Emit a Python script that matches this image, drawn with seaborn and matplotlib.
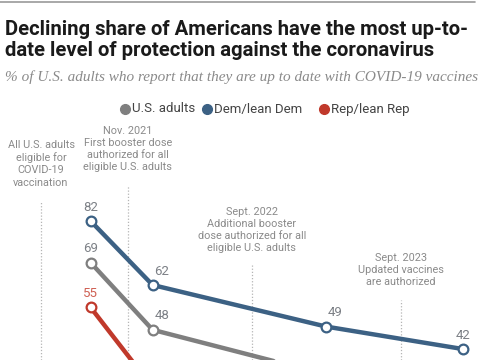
import matplotlib
matplotlib.use("Agg")
import matplotlib.pyplot as plt
import seaborn as sns
import pandas as pd

# --- data ---
# survey months, counted from Jan 2021 = 0 (Aug 2021, Jan 2022, Mar 2023, Feb 2024)
survey_month = [7, 12, 26, 37]
us_adults = [69, 48, 34, 28]
dem_lean = [82, 62, 49, 42]
rep_lean = [55, 30, 17, 12]
series_names = ["U.S. adults", "Dem/lean Dem", "Rep/lean Rep"]

event_month = [3, 10, 20, 32]
event_text = [
    "All U.S. adults\neligible for\nCOVID-19\nvaccination",
    "Nov. 2021\nFirst booster dose\nauthorized for all\neligible U.S. adults",
    "Sept. 2022\nAdditional booster\ndose authorized for all\neligible U.S. adults",
    "Sept. 2023\nUpdated vaccines\nare authorized",
]

colors = {"U.S. adults": "#7f7f7f", "Dem/lean Dem": "#3c6184", "Rep/lean Rep": "#c0392b"}
label_colors = {"U.S. adults": "#7c8086", "Dem/lean Dem": "#7c8086", "Rep/lean Rep": "#cf5f52"}

df = pd.DataFrame({
    "month": survey_month * 3,
    "share": us_adults + dem_lean + rep_lean,
    "group": [n for n in series_names for _ in survey_month],
})

sns.set_style("white")
plt.rcParams["font.family"] = ["Roboto", "DejaVu Sans"]

W, H = 485, 360
fig = plt.figure(figsize=(W / 100, H / 100), dpi=100)
ax = fig.add_axes([0, 0, 1, 1])

# pixel -> data mapping (the chart is cut off at the bottom like the reference)
px_per_month = 12.4
px_per_pt = 3.2
ax.set_xlim(3 - 41 / px_per_month, 3 + (W - 41) / px_per_month)
ax.set_ylim(82 - (H - 221) / px_per_pt, 82 + 221 / px_per_pt)
ax.axis("off")

def fy(py):
    return 1 - py / H

# event markers and notes (first-line centre in pixels)
text_top = [147, 133, 214, 260]
line_top = [202, 185, 265, 300]
for m, txt, ty, ly in zip(event_month, event_text, text_top, line_top):
    ax.axvline(m, ymin=0, ymax=fy(ly), color="#b5b5b5", lw=0.9, ls=(0, (1, 1.5)), zorder=1)
    ax.text(m, fy(ty - 7), txt, transform=ax.get_xaxis_transform(), ha="center", va="top",
            fontsize=7.8, color="#8a8a8a", linespacing=1.27)

sns.lineplot(data=df, x="month", y="share", hue="group", palette=colors, lw=3.2,
             marker="o", markersize=7, markerfacecolor="white", markeredgewidth=1.6,
             legend=False, ax=ax, zorder=3)
for line in ax.lines:
    line.set_solid_capstyle("round")
# marker edges in series colour
for line, name in zip([l for l in ax.lines if len(l.get_xdata()) == len(survey_month)], series_names):
    line.set_markeredgecolor(colors[name])

# data labels
for name, vals in zip(series_names, [us_adults, dem_lean, rep_lean]):
    for i, (m, v) in enumerate(zip(survey_month, vals)):
        dx = 6.5 if i in (1, 2) else 0
        ax.annotate(str(v), (m, v), xytext=(dx, 10), textcoords="offset points",
                    ha="center", va="center", fontsize=9.5, color=label_colors[name])

# header
fig.add_artist(plt.Line2D([0, 475 / W], [fy(2), fy(2)], color="#9a9a9a", lw=1.2))
fig.text(5 / W, fy(40), "Declining share of Americans have the most up-to-\ndate level of protection against the coronavirus",
         ha="left", va="center", fontsize=14.6, fontweight="bold", color="#1a1a1a", linespacing=1.12)
fig.text(5 / W, fy(77), "% of U.S. adults who report that they are up to date with COVID-19 vaccines",
         ha="left", va="center", fontsize=11.0, style="italic", color="#8a8a8a",
         family=["Liberation Serif", "DejaVu Serif"])

# legend
for px, name in zip([125, 207, 324], series_names):
    fig.add_artist(plt.Line2D([px / W], [fy(109)], marker="o", markersize=7,
                              color=colors[name], lw=0))
    fig.text((px + 7) / W, fy(109), name, ha="left", va="center", fontsize=9.5, color="#444444")

fig.savefig("out.png", dpi=100)
